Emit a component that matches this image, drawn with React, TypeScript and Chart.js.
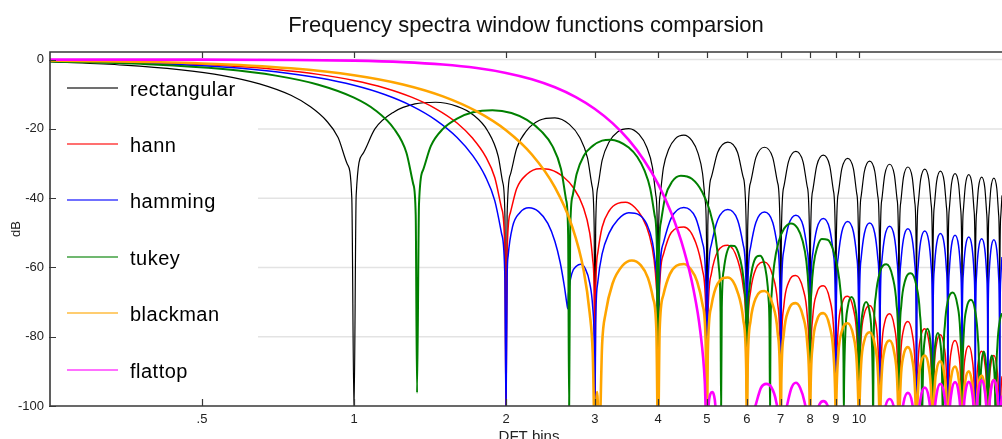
import React, { useEffect, useRef } from 'react';
import { Chart, registerables } from 'chart.js';

Chart.register(...registerables);

// ---------- data ----------
const chartTitle = 'Frequency spectra window functions comparsion';
const xTitle = 'DFT bins';
const yTitle = 'dB';
const windowNames = ['rectangular', 'hann', 'hamming', 'tukey', 'blackman', 'flattop'];
const binTicks = [0.5, 1, 2, 3, 4, 5, 6, 7, 8, 9, 10];
const binTickLabels = ['.5', '1', '2', '3', '4', '5', '6', '7', '8', '9', '10'];
const dbTicks = [0, -20, -40, -60, -80, -100];
const binRange = [0.25, 19.2];
const dbRange = [-100, 2.2];

type P = [number, number];

const rectangular: P[] = [
  [0.25,-0.6],[0.35,-1.6],[0.45,-2.9],[0.55,-4.6],[0.65,-7.0],[0.75,-10.3],[0.82,-13.6],[0.88,-17.5],[0.93,-22.5],[0.97,-30.2],[0.99,-39.9],[1,-102],
  [1.01,-39.1],[1.04,-27.3],[1.1,-20.0],[1.2,-15.1],[1.32,-12.8],[1.45,-12.3],[1.6,-13.5],[1.72,-15.9],[1.84,-20.6],[1.93,-27.9],[1.97,-35.4],[1.99,-45],[2,-102],
  [2.01,-45.1],[2.04,-33.2],[2.1,-25.6],[2.2,-20.4],[2.33,-17.5],[2.5,-16.8],[2.67,-18.7],[2.8,-22.5],[2.9,-28.4],[2.96,-36.4],[2.99,-48.5],[3,-102],
  [3.01,-48.7],[3.04,-36.8],[3.1,-29.1],[3.2,-23.8],[3.33,-20.8],[3.5,-19.9],[3.67,-21.6],[3.8,-25.3],[3.9,-31.1],[3.96,-39.1],[3.99,-51.1],[4,-102],
  [4.01,-50.9],[4.04,-39.0],[4.1,-31.2],[4.2,-25.9],[4.33,-22.8],[4.5,-21.8],[4.67,-23.4],[4.8,-27.0],[4.9,-32.8],[4.96,-40.7],[4.99,-52.7],[5,-102],
  [5.02,-47.8],[5.1,-34.0],[5.25,-26.8],[5.5,-23.8],[5.75,-26.8],[5.9,-34.0],[5.98,-47.8],[6,-102],
  [6.02,-49.3],[6.1,-35.5],[6.25,-28.3],[6.5,-25.3],[6.75,-28.3],[6.9,-35.5],[6.98,-49.3],[7,-102],
  [7.02,-50.5],[7.1,-36.7],[7.25,-29.5],[7.5,-26.5],[7.75,-29.5],[7.9,-36.7],[7.98,-50.5],[8,-102],
  [8.02,-51.6],[8.1,-37.8],[8.25,-30.6],[8.5,-27.6],[8.75,-30.6],[8.9,-37.8],[8.98,-51.6],[9,-102],
  [9.02,-52.5],[9.1,-38.7],[9.25,-31.5],[9.5,-28.5],[9.75,-31.5],[9.9,-38.7],[9.98,-52.5],[10,-102],
  [10.02,-53.3],[10.1,-39.5],[10.25,-32.3],[10.5,-29.3],[10.75,-32.3],[10.9,-39.5],[10.98,-53.3],[11,-102],
  [11.02,-54.2],[11.1,-40.4],[11.25,-33.2],[11.5,-30.2],[11.75,-33.2],[11.9,-40.4],[11.98,-54.2],[12,-102],
  [12.02,-55.0],[12.1,-41.2],[12.25,-34.0],[12.5,-31.0],[12.75,-34.0],[12.9,-41.2],[12.98,-55.0],[13,-102],
  [13.02,-55.6],[13.1,-41.8],[13.25,-34.6],[13.5,-31.6],[13.75,-34.6],[13.9,-41.8],[13.98,-55.6],[14,-102],
  [14.02,-56.2],[14.1,-42.4],[14.25,-35.2],[14.5,-32.2],[14.75,-35.2],[14.9,-42.4],[14.98,-56.2],[15,-102],
  [15.02,-56.9],[15.1,-43.1],[15.25,-35.9],[15.5,-32.9],[15.75,-35.9],[15.9,-43.1],[15.98,-56.9],[16,-102],
  [16.02,-57.2],[16.1,-43.4],[16.25,-36.2],[16.5,-33.2],[16.75,-36.2],[16.9,-43.4],[16.98,-57.2],[17,-102],
  [17.02,-57.9],[17.1,-44.1],[17.25,-36.9],[17.5,-33.9],[17.75,-36.9],[17.9,-44.1],[17.98,-57.9],[18,-102],
  [18.02,-58.2],[18.1,-44.4],[18.25,-37.2],[18.5,-34.2],[18.75,-37.2],[18.9,-44.4],[18.98,-58.2],[19,-102],
  [19.02,-58.6],[19.1,-44.8],[19.2,-39.2],
];

const hann: P[] = [
  [0.25,-0.35],[0.4,-0.91],[0.55,-1.73],[0.7,-2.84],[0.85,-4.26],[1.0,-6.02],[1.15,-8.18],[1.3,-10.84],[1.45,-14.12],[1.6,-18.3],[1.72,-22.8],[1.82,-27.85],[1.9,-34.05],[1.96,-42.9],[1.99,-55.4],[2,-102],
  [2.01,-55.7],[2.04,-44.2],[2.1,-37.2],[2.2,-33.1],[2.33,-31.5],[2.45,-31.8],[2.6,-33.9],[2.72,-37.0],[2.84,-42.3],[2.93,-50.1],[2.97,-57.8],[2.99,-67.5],[3,-102],
  [3.01,-67.4],[3.04,-55.7],[3.1,-48.4],[3.2,-43.7],[3.33,-41.5],[3.45,-41.2],[3.6,-42.7],[3.72,-45.5],[3.84,-50.4],[3.93,-57.9],[3.97,-65.5],[3.99,-74.7],[4,-102],
  [4.02,-69.5],[4.1,-56.2],[4.25,-49.9],[4.5,-48.3],[4.75,-52.8],[4.9,-60.8],[4.98,-75.1],[5,-102],
  [5.02,-75.3],[5.1,-61.9],[5.25,-55.4],[5.5,-53.6],[5.75,-57.8],[5.9,-65.7],[5.98,-79.9],[6,-102],
  [6.02,-80.5],[6.1,-67.0],[6.25,-60.4],[6.5,-58.4],[6.75,-62.4],[6.9,-70.2],[6.98,-84.3],[7,-102],
  [7.02,-84.6],[7.1,-71.1],[7.25,-64.4],[7.5,-62.3],[7.75,-66.2],[7.9,-73.9],[7.98,-88.0],[8,-102],
  [8.02,-87.8],[8.1,-74.3],[8.25,-67.5],[8.5,-65.3],[8.75,-69.1],[8.9,-76.7],[8.98,-90.8],[9,-102],
  [9.02,-91.0],[9.1,-77.4],[9.25,-70.6],[9.5,-68.3],[9.75,-72.0],[9.9,-79.6],[9.98,-93.6],[10,-104],
  [10.02,-93.8],[10.1,-80.2],[10.25,-73.4],[10.5,-71.0],[10.75,-74.6],[10.9,-82.2],[10.98,-96.2],[11,-106],
  [11.02,-96.3],[11.1,-82.7],[11.25,-75.8],[11.5,-73.4],[11.75,-77.0],[11.9,-84.5],[11.98,-98.5],[12,-108],
  [12.02,-98.6],[12.1,-85.0],[12.25,-78.1],[12.5,-75.6],[12.75,-79.1],[12.9,-86.6],[12.98,-100.6],[13,-110],
  [13.02,-100.8],[13.1,-87.1],[13.25,-80.2],[13.5,-77.7],[13.75,-81.2],[13.9,-88.7],[13.98,-102.6],[14,-112],
  [14.02,-102.5],[14.1,-88.9],[14.25,-81.9],[14.5,-79.4],[14.75,-82.9],[14.9,-90.3],[14.98,-104.3],[15,-114],
  [15.02,-104.3],[15.1,-90.6],[15.25,-83.7],[15.5,-81.1],[15.75,-84.5],[15.9,-92.0],[15.98,-105.9],[16,-116],
  [16.02,-105.9],[16.1,-92.3],[16.25,-85.3],[16.5,-82.7],[16.75,-86.1],[16.9,-93.5],[16.98,-107.5],[17,-118],
  [17.02,-107.5],[17.1,-93.8],[17.25,-86.8],[17.5,-84.2],[17.75,-87.6],[17.9,-95.0],[17.98,-108.9],[18,-120],
  [18.02,-108.7],[18.1,-95.0],[18.25,-88.0],[18.5,-85.4],[18.75,-88.8],[18.9,-96.2],[18.98,-110.1],[19,-120],
  [19.02,-110],[19.1,-96.4],[19.2,-91.4],
];

const hamming: P[] = [
  [0.25,-0.43],[0.4,-1.11],[0.55,-2.13],[0.7,-3.49],[0.85,-5.24],[1.0,-7.41],[1.15,-10.08],[1.3,-13.34],[1.45,-17.37],[1.6,-22.46],[1.72,-27.77],[1.82,-33.7],[1.9,-40.7],[1.96,-50.2],[1.99,-63.0],[2,-102],
  [2.01,-63],[2.02,-56.5],[2.06,-48.3],[2.13,-44.2],[2.22,-42.8],[2.32,-43.9],[2.42,-47.3],[2.5,-52.5],[2.56,-58.5],[2.61,-65.5],[2.64,-70.5],[2.65,-71.9],
  [2.66,-67.5],[2.7,-61.8],[2.76,-59.6],[2.81,-59.1],[2.87,-60.3],[2.93,-64.5],[2.97,-71.5],[2.99,-81.5],[3,-102],
  [3.01,-76.3],[3.04,-64.2],[3.1,-56.1],[3.2,-50.1],[3.33,-46.2],[3.5,-44.2],[3.67,-44.8],[3.8,-47.5],[3.9,-52.7],[3.96,-60.2],[3.99,-72.1],[4,-102],
  [4.02,-66.7],[4.1,-52.9],[4.25,-45.7],[4.5,-42.7],[4.75,-45.7],[4.9,-52.9],[4.98,-66.7],[5,-102],
  [5.02,-67.3],[5.1,-53.5],[5.25,-46.3],[5.5,-43.3],[5.75,-46.3],[5.9,-53.5],[5.98,-67.3],[6,-102],
  [6.02,-68.0],[6.1,-54.2],[6.25,-47.0],[6.5,-44.0],[6.75,-47.0],[6.9,-54.2],[6.98,-68.0],[7,-102],
  [7.02,-68.9],[7.1,-55.1],[7.25,-47.9],[7.5,-44.9],[7.75,-47.9],[7.9,-55.1],[7.98,-68.9],[8,-102],
  [8.02,-69.9],[8.1,-56.1],[8.25,-48.9],[8.5,-45.9],[8.75,-48.9],[8.9,-56.1],[8.98,-69.9],[9,-102],
  [9.02,-70.7],[9.1,-56.9],[9.25,-49.7],[9.5,-46.7],[9.75,-49.7],[9.9,-56.9],[9.98,-70.7],[10,-102],
  [10.02,-71.2],[10.1,-57.4],[10.25,-50.2],[10.5,-47.2],[10.75,-50.2],[10.9,-57.4],[10.98,-71.2],[11,-102],
  [11.02,-72.1],[11.1,-58.3],[11.25,-51.1],[11.5,-48.1],[11.75,-51.1],[11.9,-58.3],[11.98,-72.1],[12,-102],
  [12.02,-72.8],[12.1,-59.0],[12.25,-51.8],[12.5,-48.8],[12.75,-51.8],[12.9,-59.0],[12.98,-72.8],[13,-102],
  [13.02,-73.5],[13.1,-59.7],[13.25,-52.5],[13.5,-49.5],[13.75,-52.5],[13.9,-59.7],[13.98,-73.5],[14,-102],
  [14.02,-74.2],[14.1,-60.4],[14.25,-53.2],[14.5,-50.2],[14.75,-53.2],[14.9,-60.4],[14.98,-74.2],[15,-102],
  [15.02,-74.7],[15.1,-60.9],[15.25,-53.7],[15.5,-50.7],[15.75,-53.7],[15.9,-60.9],[15.98,-74.7],[16,-102],
  [16.02,-75.2],[16.1,-61.4],[16.25,-54.2],[16.5,-51.2],[16.75,-54.2],[16.9,-61.4],[16.98,-75.2],[17,-102],
  [17.02,-75.7],[17.1,-61.9],[17.25,-54.7],[17.5,-51.7],[17.75,-54.7],[17.9,-61.9],[17.98,-75.7],[18,-102],
  [18.02,-76.0],[18.1,-62.2],[18.25,-55.0],[18.5,-52.0],[18.75,-55.0],[18.9,-62.2],[18.98,-76.0],[19,-102],
  [19.02,-76.4],[19.1,-62.6],[19.2,-57.0],
];

const tukey: P[] = [
  [0.25,-0.54],[0.4,-1.41],[0.55,-2.74],[0.7,-4.62],[0.85,-7.24],[1.0,-10.97],[1.1,-14.53],[1.2,-19.97],[1.27,-26.9],[1.31,-35.9],[1.325,-44.9],[1.333,-96.2],
  [1.345,-41.7],[1.37,-31.9],[1.42,-24.9],[1.5,-20.0],[1.6,-17.0],[1.72,-15.2],[1.88,-14.6],[2.05,-15.4],[2.2,-17.4],[2.35,-20.7],[2.47,-24.9],[2.57,-31.6],[2.63,-40.4],[2.655,-50.4],[2.667,-102],
  [2.68,-49.4],[2.71,-39.3],[2.76,-33.0],[2.85,-27.8],[2.97,-24.9],[3.1,-23.4],[3.22,-23.1],[3.35,-23.7],[3.5,-25.4],[3.64,-28.1],[3.76,-32.0],[3.86,-37.2],[3.94,-45.0],[3.98,-54.8],[4,-102],
  [4.013,-58.7],[4.053,-46.9],[4.133,-39.7],[4.267,-35.2],[4.44,-33.5],[4.667,-34.4],[4.893,-38.2],[5.067,-43.7],[5.2,-51.2],[5.28,-60.1],[5.32,-72.7],[5.333,-102],
  [5.35,-71.7],[5.4,-60.6],[5.47,-55.9],[5.57,-53.7],[5.67,-53.8],[5.77,-55.8],[5.87,-60.3],[5.94,-67.0],[5.98,-76.6],[6,-102],
  [6.02,-76.5],[6.07,-65.9],[6.15,-60.1],[6.27,-56.9],[6.37,-56.6],[6.47,-58.1],[6.56,-62.3],[6.62,-68.8],[6.65,-77.6],[6.667,-102],
  [6.68,-79.4],[6.72,-67.1],[6.8,-58.8],[6.933,-52.6],[7.107,-48.8],[7.333,-47.3],[7.56,-48.7],[7.733,-52.3],[7.867,-58.2],[7.947,-66.2],[7.987,-78.4],[8,-102],
  [8.013,-78.7],[8.053,-66.8],[8.133,-59.2],[8.267,-54.2],[8.44,-51.8],[8.667,-52.0],[8.893,-55.0],[9.067,-60.0],[9.2,-67.1],[9.28,-75.9],[9.32,-87.5],[9.333,-102],
  [9.347,-92.5],[9.4,-78.7],[9.5,-71.5],[9.667,-68.5],[9.833,-71.5],[9.933,-78.7],[9.987,-92.5],[10,-104],
  [10.013,-94.0],[10.067,-80.2],[10.167,-73.0],[10.333,-70.0],[10.5,-73.0],[10.6,-80.2],[10.653,-94.0],[10.667,-104],
  [10.693,-81.7],[10.8,-68.1],[11.0,-61.4],[11.333,-59.1],[11.667,-62.9],[11.867,-70.5],[11.973,-84.5],[12,-104],
  [12.027,-84.4],[12.133,-70.8],[12.333,-64.0],[12.667,-61.7],[13.0,-65.4],[13.2,-73.0],[13.307,-87.0],[13.333,-104],
  [13.347,-101.7],[13.4,-87.9],[13.5,-80.7],[13.667,-77.7],[13.833,-80.7],[13.933,-87.9],[13.987,-101.7],[14,-110],
  [14.013,-102.9],[14.067,-89.1],[14.167,-81.9],[14.333,-78.9],[14.5,-81.9],[14.6,-89.1],[14.653,-102.9],[14.667,-110],
  [14.693,-90.1],[14.8,-76.5],[15.0,-69.6],[15.333,-67.2],[15.667,-70.8],[15.867,-78.3],[15.973,-92.3],[16,-104],
  [16.027,-92.3],[16.133,-78.7],[16.333,-71.8],[16.667,-69.3],[17.0,-72.8],[17.2,-80.3],[17.307,-94.3],[17.333,-115],
  [17.347,-108.3],[17.4,-94.5],[17.5,-87.3],[17.667,-84.3],[17.833,-87.3],[17.933,-94.5],[17.987,-108.3],[18,-115],
  [18.013,-109.4],[18.067,-95.6],[18.167,-88.4],[18.333,-85.4],[18.5,-88.4],[18.6,-95.6],[18.653,-109.4],[18.667,-115],
  [18.693,-96.5],[18.8,-82.7],[19.0,-75.5],[19.2,-73.2],
];

const blackman: P[] = [
  [0.25,-0.27],[0.5,-1.1],[0.75,-2.5],[1.0,-4.51],[1.25,-7.18],[1.5,-10.62],[1.75,-14.96],[2.0,-20.4],[2.25,-27.4],[2.5,-36.9],[2.7,-47.9],[2.85,-60.9],[2.93,-73.3],[2.97,-84.7],[3.0,-110],
  [3.03,-96.0],[3.06,-110],
  [3.1,-82.2],[3.15,-73.2],[3.25,-64.7],[3.4,-59.5],[3.55,-58.0],[3.7,-59.4],[3.82,-63.0],[3.91,-68.8],[3.97,-78.2],[4,-110],
  [4.03,-78.1],[4.1,-67.9],[4.22,-62.0],[4.35,-59.5],[4.5,-59.0],[4.65,-60.6],[4.78,-64.0],[4.9,-70.7],[4.97,-81.2],[5,-110],
  [5.02,-84.6],[5.1,-71.2],[5.25,-64.7],[5.5,-62.9],[5.75,-67.1],[5.9,-75.0],[5.98,-89.2],[6,-110],
  [6.02,-88.9],[6.1,-75.4],[6.25,-68.8],[6.5,-66.8],[6.75,-70.8],[6.9,-78.6],[6.98,-92.7],[7,-110],
  [7.02,-92.6],[7.1,-79.1],[7.25,-72.4],[7.5,-70.3],[7.75,-74.2],[7.9,-81.9],[7.98,-96.0],[8,-110],
  [8.02,-95.7],[8.1,-82.2],[8.25,-75.4],[8.5,-73.2],[8.75,-77.0],[8.9,-84.6],[8.98,-98.7],[9,-110],
  [9.02,-98.8],[9.1,-85.2],[9.25,-78.4],[9.5,-76.1],[9.75,-79.8],[9.9,-87.4],[9.98,-101.4],[10,-110],
  [10.02,-101.5],[10.1,-87.9],[10.25,-81.1],[10.5,-78.7],[10.75,-82.3],[10.9,-89.9],[10.98,-103.9],[11,-115],
  [11.02,-104.0],[11.1,-90.4],[11.25,-83.5],[11.5,-81.1],[11.75,-84.7],[11.9,-92.2],[11.98,-106.2],[12,-115],
  [12.02,-106.0],[12.1,-92.4],[12.25,-85.5],[12.5,-83.0],[12.75,-86.5],[12.9,-94.0],[12.98,-108.0],[13,-120],
  [13.02,-108.5],[13.1,-94.8],[13.25,-87.9],[13.5,-85.4],[13.75,-88.9],[13.9,-96.4],[13.98,-110.3],[14,-120],
  [14.02,-110.2],[14.1,-96.6],[14.25,-89.6],[14.5,-87.1],[14.75,-90.6],[14.9,-98.0],[14.98,-112.0],[15,-120],
  [15.02,-111.8],[15.1,-98.1],[15.25,-91.2],[15.5,-88.6],[15.75,-92.0],[15.9,-99.5],[15.98,-113.4],[16,-125],
  [16.02,-113.2],[16.1,-99.6],[16.25,-92.6],[16.5,-90.0],[16.75,-93.4],[16.9,-100.8],[16.98,-114.8],[17,-125],
  [17.02,-114.5],[17.1,-100.8],[17.25,-93.8],[17.5,-91.2],[17.75,-94.6],[17.9,-102.0],[17.98,-116.0],[18,-125],
  [18.02,-115.7],[18.1,-102.0],[18.25,-95.0],[18.5,-92.4],[18.75,-95.8],[18.9,-103.2],[18.98,-117.1],[19,-125],
  [19.02,-117.0],[19.1,-103.2],[19.2,-98.1],
];

const flattop: P[] = [
  [0.25,0],[0.5,-0.01],[0.75,-0.09],[1.0,-0.3],[1.25,-0.72],[1.5,-1.41],[1.75,-2.43],[2.0,-3.84],[2.25,-5.67],[2.5,-7.98],[2.75,-10.82],[3.0,-14.25],[3.25,-18.34],[3.5,-23.19],[3.75,-28.96],[4.0,-35.86],[4.25,-44.3],[4.5,-54.9],[4.7,-66.2],[4.85,-78.4],[4.95,-92.8],[5.0,-110],
  [5.04,-99.5],[5.08,-96.5],[5.12,-96.0],[5.16,-96.8],[5.2,-100.5],[5.23,-110],[5.6,-112],[6.0,-120],
  [6.1,-105],[6.25,-99.5],[6.4,-94.7],[6.55,-93.6],[6.7,-94.5],[6.85,-98.5],[6.95,-106],[7.0,-120],
  [7.1,-104],[7.2,-100],[7.35,-94.8],[7.5,-93.3],[7.65,-94.8],[7.8,-98.8],[7.9,-104],[8.0,-120],
  [8.2,-104],[8.35,-99.6],[8.5,-98.6],[8.65,-99.6],[8.8,-104],[9.0,-120],
  [9.5,-108],[10.0,-120],[10.5,-104],[11.0,-120],
  [11.1,-108],[11.25,-101],[11.5,-98.0],[11.75,-101],[11.9,-108],[12,-120],
  [12.1,-106.4],[12.25,-99.2],[12.5,-96.2],[12.75,-99.2],[12.9,-106.4],[13,-120],
  [13.1,-104.9],[13.25,-97.7],[13.5,-94.7],[13.75,-97.7],[13.9,-104.9],[14,-120],
  [14.1,-103.8],[14.25,-96.6],[14.5,-93.6],[14.75,-96.6],[14.9,-103.8],[15,-120],
  [15.1,-103.3],[15.25,-96.1],[15.5,-93.1],[15.75,-96.1],[15.9,-103.3],[16,-120],
  [16.1,-103.2],[16.25,-96.0],[16.5,-93.0],[16.75,-96.0],[16.9,-103.2],[17,-120],
  [17.1,-102.8],[17.25,-95.6],[17.5,-92.6],[17.75,-95.6],[17.9,-102.8],[18,-120],
  [18.1,-102.7],[18.25,-95.5],[18.5,-92.5],[18.75,-95.5],[18.9,-102.7],[19,-120],
  [19.1,-102.3],[19.2,-97.0],
];

const seriesData: P[][] = [rectangular, hann, hamming, tukey, blackman, flattop];

// ---------- styles ----------
const seriesColors = ['#000000', '#ff0000', '#0000ff', '#008000', '#ffa500', '#ff00ff'];
const seriesWidths = [1.2, 1.5, 1.5, 2, 2.6, 2.6];
const FONT = '"Liberation Sans", Arial, Helvetica, sans-serif';
const AXIS_COLOR = '#383838';

const decorPlugin = {
  id: 'decor',
  beforeDatasetsDraw(chart: any) {
    const { ctx, chartArea: a, scales } = chart;
    const y = scales.y;
    ctx.save();
    ctx.strokeStyle = '#e3e3e3';
    ctx.lineWidth = 1.5;
    for (const v of dbTicks) {
      if (v === dbRange[0]) continue;
      const py = y.getPixelForValue(v);
      ctx.beginPath();
      ctx.moveTo(a.left + 208, py);
      ctx.lineTo(a.right, py);
      ctx.stroke();
    }
    ctx.restore();
  },
  afterDatasetsDraw(chart: any) {
    const { ctx, chartArea: a } = chart;
    ctx.save();
    windowNames.forEach((name, i) => {
      const ly = Math.round(a.top + 35.5 + i * 56.4);
      ctx.globalAlpha = 0.75;
      ctx.strokeStyle = seriesColors[i];
      ctx.lineWidth = 1.6;
      ctx.beginPath();
      ctx.moveTo(a.left + 17, ly);
      ctx.lineTo(a.left + 68, ly);
      ctx.stroke();
      ctx.globalAlpha = 1;
      ctx.fillStyle = '#000';
      ctx.font = `20px ${FONT}`;
      try { (ctx as any).letterSpacing = '0.5px'; } catch (e) { /* ignore */ }
      ctx.textAlign = 'left';
      ctx.textBaseline = 'alphabetic';
      ctx.fillText(name, a.left + 80, ly + 7.5);
    });
    try { (ctx as any).letterSpacing = '0px'; } catch (e) { /* ignore */ }
    ctx.restore();
  },
  afterDraw(chart: any) {
    const { ctx, chartArea: a, scales } = chart;
    const x = scales.x;
    const y = scales.y;
    ctx.save();
    // frame (left, top, bottom)
    ctx.strokeStyle = AXIS_COLOR;
    ctx.lineWidth = 1.6;
    ctx.beginPath();
    ctx.moveTo(a.right + 2, a.top);
    ctx.lineTo(a.left, a.top);
    ctx.lineTo(a.left, a.bottom);
    ctx.lineTo(a.right + 2, a.bottom);
    ctx.stroke();
    // inward ticks
    ctx.lineWidth = 1.2;
    ctx.beginPath();
    for (const v of binTicks) {
      const px = Math.round(x.getPixelForValue(v)) + 0.5;
      ctx.moveTo(px, a.bottom);
      ctx.lineTo(px, a.bottom - 7);
      ctx.moveTo(px, a.top);
      ctx.lineTo(px, a.top + 6);
    }
    for (const v of dbTicks) {
      const py = Math.round(y.getPixelForValue(v)) + 0.5;
      ctx.moveTo(a.left - 1, py);
      ctx.lineTo(a.left + 6, py);
    }
    ctx.stroke();
    // titles
    ctx.fillStyle = '#111';
    ctx.textAlign = 'center';
    ctx.textBaseline = 'alphabetic';
    ctx.font = `22px ${FONT}`;
    ctx.fillText(chartTitle, (a.left + a.right) / 2, 32);
    ctx.fillStyle = '#222';
    ctx.font = `15px ${FONT}`;
    ctx.fillText(xTitle, (a.left + a.right) / 2 + 3, 441);
    ctx.translate(16, (a.top + a.bottom) / 2);
    ctx.rotate(-Math.PI / 2);
    ctx.textBaseline = 'middle';
    ctx.font = `13px ${FONT}`;
    ctx.fillText(yTitle, 0, 0);
    ctx.restore();
  },
};

export default function App() {
  const canvasRef = useRef<HTMLCanvasElement | null>(null);

  useEffect(() => {
    document.body.style.margin = '0';
    const canvas = canvasRef.current;
    if (!canvas) return;
    const chart = new Chart(canvas, {
      type: 'line',
      data: {
        datasets: seriesData.map((pts, i) => ({
          label: windowNames[i],
          data: pts.map(([bx, db]) => ({ x: bx, y: db })),
          borderColor: seriesColors[i],
          borderWidth: seriesWidths[i],
          pointRadius: 0,
          fill: false,
          cubicInterpolationMode: 'monotone' as const,
          clip: 0,
          order: seriesData.length - i,
        })),
      },
      options: {
        animation: false,
        responsive: false,
        events: [],
        parsing: true,
        layout: { padding: { top: 52, left: 0, right: 0, bottom: 0 } },
        plugins: {
          legend: { display: false },
          tooltip: { enabled: false },
          title: { display: false },
        },
        scales: {
          x: {
            type: 'logarithmic',
            position: 'bottom',
            min: binRange[0],
            max: binRange[1],
            grid: { display: false, drawTicks: false },
            border: { display: false },
            ticks: {
              autoSkip: false,
              maxRotation: 0,
              padding: 6,
              color: '#222',
              font: { family: FONT, size: 13 },
              callback: (_v: any, idx: number) => binTickLabels[idx],
            },
            afterBuildTicks: (s: any) => {
              s.ticks = binTicks.map((v) => ({ value: v }));
            },
            afterFit: (s: any) => {
              s.height = 33;
            },
          },
          y: {
            type: 'linear',
            position: 'left',
            min: dbRange[0],
            max: dbRange[1],
            grid: { display: false, drawTicks: false },
            border: { display: false },
            ticks: {
              padding: 6,
              color: '#222',
              font: { family: FONT, size: 13 },
              callback: (v: any) => String(v),
            },
            afterBuildTicks: (s: any) => {
              s.ticks = dbTicks.map((v) => ({ value: v }));
            },
            afterFit: (s: any) => {
              s.width = 50;
            },
          },
        },
      } as any,
      plugins: [decorPlugin],
    });
    return () => chart.destroy();
  }, []);

  return (
    <div style={{ width: 1002, height: 439 }}>
      <canvas ref={canvasRef} width={1002} height={439} style={{ display: 'block' }} />
    </div>
  );
}
